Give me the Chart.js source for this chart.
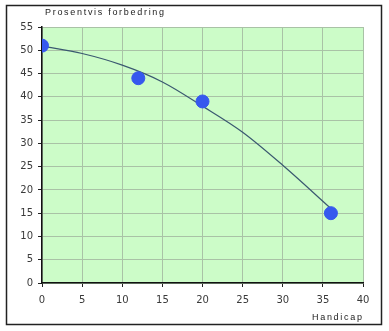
<!DOCTYPE html>
<html>
<head>
<meta charset="utf-8">
<script src="https://cdn.jsdelivr.net/npm/chart.js@4/dist/chart.umd.min.js"></script>
<style>
  html, body { margin: 0; padding: 0; background: #ffffff; }
  #wrap { width: 389px; height: 331px; }
</style>
</head>
<body>
<div id="wrap"><canvas id="c" width="389" height="331"></canvas></div>
<script>
// Measured improvement per handicap group
const handicap = [0, 12, 20, 36];
const improvement = [51, 44, 39, 15];

// Smoothed trend curve through the measurements
const trendX = [0, 5, 10, 15, 20, 25, 30, 36];
const trendY = [50.9, 49.3, 46.8, 43.2, 38.0, 32.4, 25.3, 16.0];

// Axis ticks
const xTicks = [0, 5, 10, 15, 20, 25, 30, 35, 40];
const yTicks = [0, 5, 10, 15, 20, 25, 30, 35, 40, 45, 50, 55];

const yAxisTitle = 'Prosentvis forbedring';
const xAxisTitle = 'Handicap';

const frame = {
  id: 'frame',
  beforeDraw(chart) {
    const ctx = chart.ctx;
    const a = chart.chartArea;
    ctx.save();
    ctx.fillStyle = '#ffffff';
    ctx.fillRect(0, 0, chart.width, chart.height);
    ctx.strokeStyle = '#222222';
    ctx.lineWidth = 1.5;
    ctx.strokeRect(6.5, 5.5, 375, 319);
    ctx.fillStyle = '#ccfcc8';
    ctx.fillRect(a.left, a.top, a.right - a.left, a.bottom - a.top);
    ctx.restore();
  },
  afterDraw(chart) {
    const ctx = chart.ctx;
    ctx.save();
    ctx.fillStyle = '#222222';
    ctx.font = '9px "Liberation Sans", Arial, sans-serif';
    ctx.letterSpacing = '1.7px';
    ctx.textBaseline = 'middle';
    ctx.textAlign = 'left';
    ctx.fillText(yAxisTitle, 45, 13);
    ctx.fillText(xAxisTitle, 312, 318);
    ctx.restore();
  }
};

const tickFont = { family: '"DejaVu Sans", Verdana, sans-serif', size: 10 };

new Chart(document.getElementById('c'), {
  type: 'scatter',
  data: {
    datasets: [
      {
        data: handicap.map((x, i) => ({ x, y: improvement[i] })),
        pointRadius: 6.5,
        pointHoverRadius: 6.5,
        pointBackgroundColor: '#3658ee',
        pointBorderColor: '#3658ee',
        showLine: false,
        order: 0
      },
      {
        data: trendX.map((x, i) => ({ x, y: trendY[i] })),
        showLine: true,
        borderColor: '#3a5870',
        borderWidth: 1.2,
        pointRadius: 0,
        cubicInterpolationMode: 'monotone',
        order: 1
      }
    ]
  },
  plugins: [frame],
  options: {
    responsive: false,
    animation: false,
    events: [],
    layout: { padding: { top: 27, right: 26, left: 0, bottom: 0 } },
    plugins: { legend: { display: false }, tooltip: { enabled: false } },
    scales: {
      x: {
        type: 'linear',
        min: 0, max: 40,
        afterBuildTicks: s => { s.ticks = xTicks.map(v => ({ value: v })); },
        afterFit: s => { s.height = 48; },
        grid: { color: '#a9c2a6', lineWidth: 1, tickColor: '#222222', tickLength: 4, drawTicks: true },
        border: { color: '#111111', width: 1.5 },
        ticks: { color: '#3a3a3a', font: tickFont, padding: 7, maxRotation: 0 }
      },
      y: {
        type: 'linear',
        min: 0, max: 55,
        afterBuildTicks: s => { s.ticks = yTicks.map(v => ({ value: v })); },
        afterFit: s => { s.width = 42; },
        grid: { color: '#a9c2a6', lineWidth: 1, tickColor: '#222222', tickLength: 4, drawTicks: true },
        border: { color: '#111111', width: 1.5 },
        ticks: { color: '#3a3a3a', font: tickFont, padding: 5 }
      }
    }
  }
});
</script>
</body>
</html>
